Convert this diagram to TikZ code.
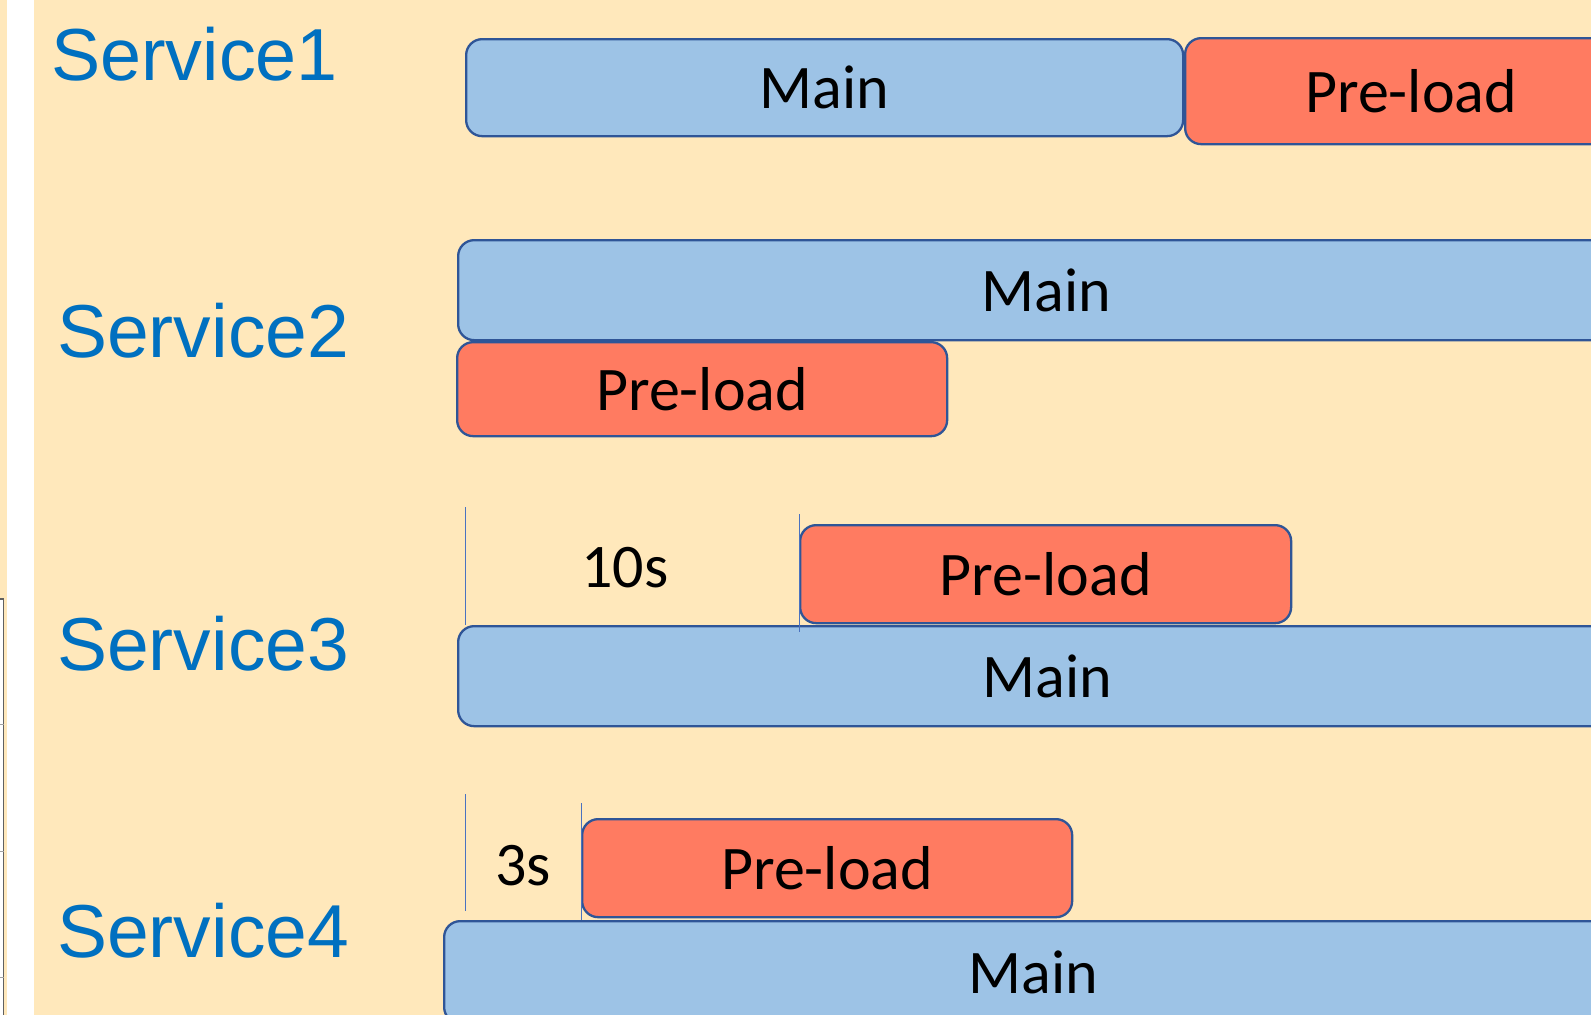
\documentclass[tikz,border=0pt]{standalone}
\usepackage{fontspec}
\setmainfont{Carlito}
\newfontfamily\svcfont{Liberation Sans}

\definecolor{pagebg}{HTML}{FFE8BB}
\definecolor{mainfill}{HTML}{9DC3E6}
\definecolor{prefill}{HTML}{FF7B61}
\definecolor{barline}{HTML}{2F5597}
\definecolor{svcblue}{HTML}{0070C0}
\definecolor{markline}{HTML}{4A72C0}
\definecolor{tablegray}{HTML}{606060}

\tikzset{
  bar/.style={draw=barline, line width=2.3pt, rounded corners=16pt, inner sep=0pt,
              anchor=north west, font=\fontsize{62}{74}\selectfont},
  mainbar/.style={bar, fill=mainfill},
  prebar/.style={bar, fill=prefill},
  svc/.style={inner sep=0pt, anchor=base west, text=svcblue,
              font=\svcfont\fontsize{75}{80}\selectfont},
  gaplabel/.style={inner sep=0pt, font=\fontsize{62}{74}\selectfont},
  marker/.style={draw=markline, line width=1pt},
}

\begin{document}
\begin{tikzpicture}[x=1pt, y=-1pt]
  \useasboundingbox (0,0) rectangle (1591,1015);
  \clip (0,0) rectangle (1591,1015);

  % background and the white gutter on the left
  \fill[pagebg] (0,0) rectangle (1591,1015);
  \fill[white] (7,0) rectangle (34,1015);
  \fill[white] (0,599) rectangle (3.5,1015);
  \draw[tablegray, line width=1.2pt] (0,599) -- (3.5,599) -- (3.5,1015);
  \foreach \ty in {724,851,977} \draw[tablegray!60, line width=0.8pt] (0,\ty) -- (3.5,\ty);

  % service labels
  \node[svc, font=\svcfont\fontsize{73.7}{80}\selectfont] (s1) at (51,80) {Service1};
  \node[svc] (s2) at (57,357) {Service2};
  \node[svc] (s3) at (57,670) {Service3};
  \node[svc] (s4) at (57,957) {Service4};

  % Service1: main, then pre-load
  \node[mainbar, minimum width=717pt, minimum height=97pt]  (m1) at (465,38)  {Main};
  \node[prebar,  minimum width=452pt, minimum height=106pt] (p1) at (1184,37) {Pre-load};

  % Service2: main and pre-load start together
  \node[mainbar, minimum width=1176pt, minimum height=100pt] (m2) at (457,239) {Main};
  \node[prebar,  minimum width=490pt,  minimum height=94pt]  (p2) at (456,341) {Pre-load};

  % Service3: pre-load after 10s
  \node[prebar,  minimum width=491pt,  minimum height=98pt]  (p3) at (799,524) {Pre-load};
  \node[mainbar, minimum width=1178pt, minimum height=100pt] (m3) at (457,625) {Main};
  \draw[marker] (465,507) -- (465,625);
  \draw[marker] (799,514) -- (799,632);
  \node[gaplabel] (t10) at (625,568) {10s};

  % Service4: pre-load after 3s
  \node[prebar,  minimum width=490pt,  minimum height=98pt]  (p4) at (581,818) {Pre-load};
  \node[mainbar, minimum width=1178pt, minimum height=102pt] (m4) at (443,920) {Main};
  \draw[marker] (465.5,794) -- (465.5,911);
  \draw[marker] (581,803) -- (581,920);
  \node[gaplabel] (t3) at (523,866) {3s};
\end{tikzpicture}
\end{document}
